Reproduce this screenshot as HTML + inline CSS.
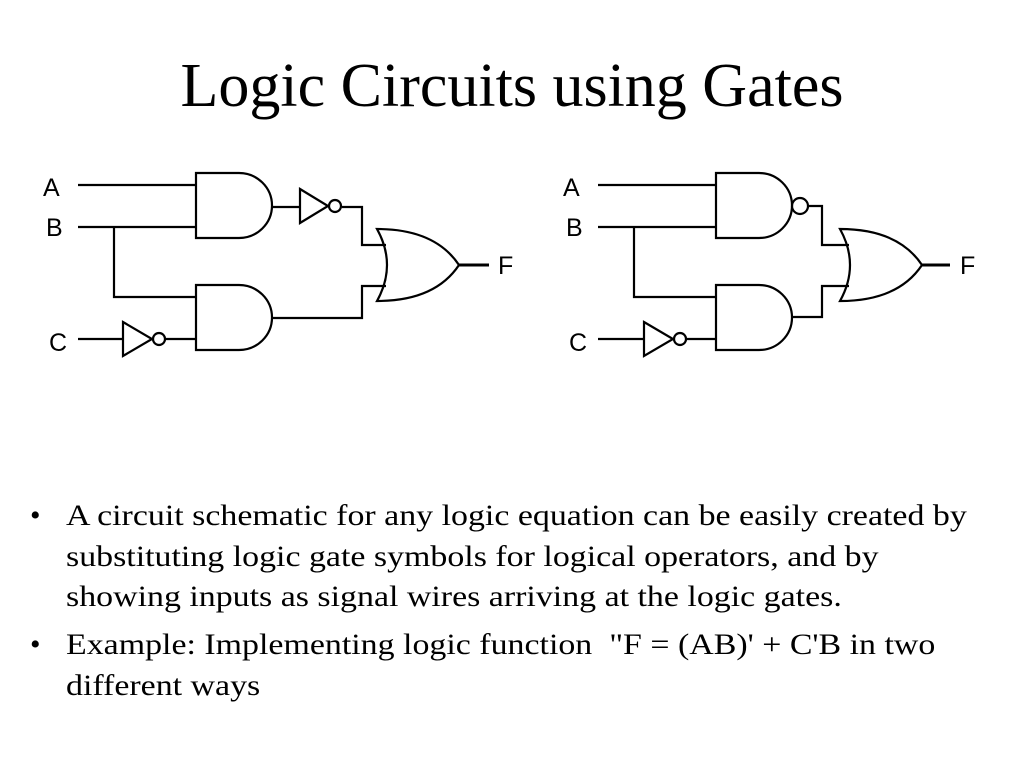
<!DOCTYPE html>
<html><head><meta charset="utf-8"><style>
body{margin:0;width:1024px;height:768px;background:#fff;overflow:hidden;position:relative;font-family:"Liberation Serif",serif;}
.t{position:absolute;white-space:nowrap;color:#000;}
svg text{font-family:"Liberation Sans",sans-serif;font-size:25px;fill:#000;stroke:none;}
</style></head><body>
<div class="t" style="left:0;width:1024px;text-align:center;top:48px;font-size:62px;line-height:76px;">Logic Circuits using Gates</div>
<svg width="1024" height="768" style="position:absolute;left:0;top:0" fill="none" stroke="#000" stroke-width="2.2">
<text x="43" y="196">A</text><text x="46" y="236">B</text><text x="49" y="351">C</text><text x="498" y="274">F</text>
<text x="563" y="196">A</text><text x="566" y="236">B</text><text x="569" y="351">C</text><text x="960" y="274">F</text>
<path d="M78 185H196M78 227H196M114 227V297H196M78 339H123M166 339H196"/>
<path d="M196 173H239A33 32.5 0 0 1 239 238H196Z"/>
<path d="M196 285H239A33 32.5 0 0 1 239 350H196Z"/>
<path d="M272 207H300M342 207H362V245H386M272 318H362V286H386"/>
<path d="M300 189L328 206L300 223Z"/><circle cx="335" cy="206" r="6"/>
<path d="M123 322L152 339L123 356Z"/><circle cx="159" cy="339" r="6"/>
<path d="M377 229Q397 265 377 301Q435 301 459 265Q435 229 377 229Z"/>
<path d="M459 265H489" stroke-width="3"/>
<path d="M598 185H716M598 227H716M634 227V297H716M598 339H644M687 339H716"/>
<path d="M716 173H759A33 32.5 0 0 1 759 238H716Z"/>
<path d="M716 285H759A33 32.5 0 0 1 759 350H716Z"/>
<circle cx="800" cy="206" r="8"/>
<path d="M808 206H822V245H849M792 317H822V286H849"/>
<path d="M644 322L673 339L644 356Z"/><circle cx="680" cy="339" r="6"/>
<path d="M840 229Q860 265 840 301Q898 301 922 265Q898 229 840 229Z"/>
<path d="M922 265H950" stroke-width="3"/>
</svg>
<div style="position:absolute;left:0;top:496px;font-size:30px;line-height:40.6px;">
<div class="t" style="left:30px;top:0">•</div>
<div class="t" style="left:66px;top:0;transform-origin:0 0;transform:scaleX(1.13)">A circuit schematic for any logic equation can be easily created by</div>
<div class="t" style="left:66px;top:40.6px;transform-origin:0 0;transform:scaleX(1.13)">substituting logic gate symbols for logical operators, and by</div>
<div class="t" style="left:66px;top:81.2px;transform-origin:0 0;transform:scaleX(1.13)">showing inputs as signal wires arriving at the logic gates.</div>
<div class="t" style="left:30px;top:129px">•</div>
<div class="t" style="left:66px;top:129px;transform-origin:0 0;transform:scaleX(1.13)">Example: Implementing logic function&nbsp; "F = (AB)' + C'B in two</div>
<div class="t" style="left:66px;top:169.6px;transform-origin:0 0;transform:scaleX(1.13)">different ways</div>
</div>
</body></html>
